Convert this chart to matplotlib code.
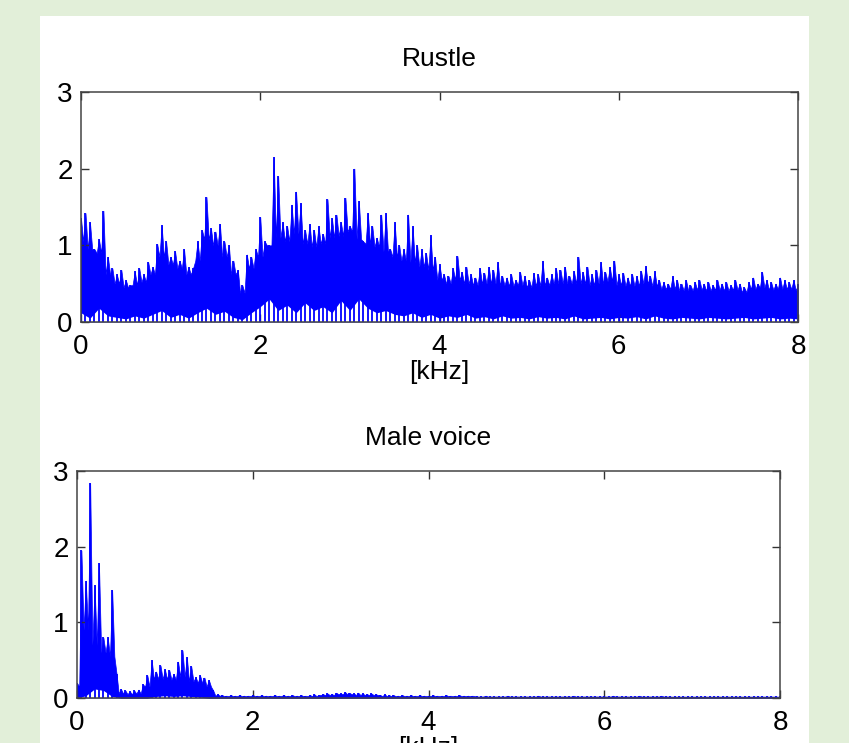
import numpy as np
import matplotlib
matplotlib.use('Agg')
import matplotlib.pyplot as plt
import matplotlib.patches as patches

plt.rcParams['font.family'] = ['Liberation Sans', 'DejaVu Sans']

# ========== 0. data ==========
# spike heights, one per 0.05 kHz bin (0 .. 8 kHz)
rustle_peak = [
    1.35, 1.42, 1.30, 0.95, 1.08, 1.45, 0.85, 0.70, 0.62, 0.68,
    0.55, 0.48, 0.66, 0.70, 0.62, 0.78, 0.72, 1.02, 1.26, 1.05,
    0.85, 0.92, 0.80, 0.95, 0.72, 0.70, 1.05, 1.20, 1.63, 1.22,
    1.18, 1.28, 1.05, 1.00, 0.80, 0.68, 0.48, 0.88, 0.85, 0.95,
    1.37, 1.05, 1.00, 2.15, 1.90, 1.30, 1.25, 1.53, 1.70, 1.55,
    1.20, 1.28, 1.20, 1.25, 1.15, 1.60, 1.35, 1.40, 1.30, 1.62,
    1.25, 2.00, 1.58, 1.05, 1.42, 1.25, 1.10, 1.40, 1.42, 0.95,
    1.30, 1.00, 0.95, 1.40, 1.25, 1.00, 0.95, 0.90, 1.13, 0.85,
    0.75, 0.62, 0.60, 0.70, 0.86, 0.65, 0.72, 0.62, 0.58, 0.70,
    0.64, 0.72, 0.68, 0.78, 0.60, 0.58, 0.62, 0.55, 0.65, 0.60,
    0.55, 0.64, 0.62, 0.80, 0.58, 0.62, 0.70, 0.68, 0.72, 0.60,
    0.66, 0.85, 0.65, 0.72, 0.62, 0.68, 0.78, 0.65, 0.72, 0.80,
    0.62, 0.64, 0.58, 0.62, 0.60, 0.66, 0.73, 0.60, 0.66, 0.55,
    0.52, 0.50, 0.60, 0.55, 0.50, 0.55, 0.48, 0.52, 0.55, 0.50,
    0.52, 0.48, 0.55, 0.50, 0.52, 0.48, 0.55, 0.50, 0.45, 0.52,
    0.58, 0.50, 0.65, 0.55, 0.52, 0.50, 0.58, 0.55, 0.52, 0.55,
    0.50]
# level of the dips between spikes, one per 0.1 kHz bin
rustle_body = [
    1.05, 0.95, 0.90, 0.62, 0.50, 0.45, 0.48, 0.52, 0.62, 0.85,
    0.75, 0.70, 0.62, 0.80, 1.08, 1.00, 0.85, 0.62, 0.38, 0.70,
    0.85, 1.00, 1.10, 1.05, 1.15, 1.02, 0.98, 1.02, 1.10, 1.12,
    1.18, 1.08, 1.02, 0.98, 0.92, 0.85, 0.80, 0.78, 0.72, 0.68,
    0.55, 0.50, 0.55, 0.50, 0.48, 0.50, 0.50, 0.48, 0.47, 0.48,
    0.45, 0.47, 0.48, 0.50, 0.50, 0.50, 0.50, 0.48, 0.50, 0.53,
    0.48, 0.47, 0.47, 0.50, 0.47, 0.43, 0.43, 0.41, 0.41, 0.42,
    0.41, 0.42, 0.41, 0.42, 0.39, 0.43, 0.45, 0.42, 0.43, 0.43,
    0.41]
# white gaps along the zero line, one per 0.1 kHz bin
rustle_floor = [
    0.12, 0.05, 0.18, 0.08, 0.06, 0.04, 0.08, 0.05, 0.10, 0.15,
    0.06, 0.10, 0.05, 0.12, 0.18, 0.10, 0.14, 0.06, 0.03, 0.12,
    0.20, 0.30, 0.15, 0.22, 0.12, 0.25, 0.15, 0.20, 0.12, 0.28,
    0.15, 0.30, 0.18, 0.12, 0.15, 0.10, 0.08, 0.12, 0.06, 0.10,
    0.05, 0.08, 0.06, 0.10, 0.05, 0.07, 0.04, 0.08, 0.05, 0.06,
    0.04, 0.07, 0.05, 0.06, 0.04, 0.08, 0.04, 0.05, 0.06, 0.04,
    0.06, 0.05, 0.07, 0.04, 0.08, 0.05, 0.04, 0.06, 0.05, 0.04,
    0.06, 0.05, 0.04, 0.05, 0.06, 0.04, 0.05, 0.06, 0.04, 0.05,
    0.04]

male_peak = [
    0.20, 1.95, 1.55, 2.84, 1.49, 1.78, 0.80, 0.80, 1.43, 0.32,
    0.12, 0.10, 0.09, 0.10, 0.11, 0.18, 0.30, 0.50, 0.35, 0.43,
    0.38, 0.37, 0.32, 0.48, 0.63, 0.54, 0.42, 0.28, 0.30, 0.27,
    0.24, 0.10, 0.05,
    0.04, 0.03, 0.04, 0.03, 0.04, 0.03, 0.03, 0.04, 0.03, 0.04,
    0.03, 0.03, 0.04, 0.03, 0.04, 0.03, 0.04, 0.03, 0.04, 0.03,
    0.04, 0.05, 0.04, 0.05, 0.06, 0.05, 0.07, 0.06, 0.08, 0.07,
    0.06, 0.07, 0.06, 0.05, 0.06, 0.05, 0.04, 0.05,
    0.04, 0.04, 0.03, 0.04, 0.03, 0.04, 0.03, 0.04, 0.03, 0.03,
    0.04, 0.03, 0.03, 0.04, 0.03, 0.03, 0.04, 0.03, 0.03, 0.03,
    0.02, 0.02, 0.03, 0.02, 0.02, 0.02, 0.02, 0.03, 0.02, 0.02,
    0.02, 0.02, 0.02, 0.02, 0.03, 0.02, 0.02, 0.02, 0.02, 0.02,
    0.02, 0.02, 0.03, 0.02, 0.02, 0.02, 0.02, 0.02, 0.02, 0.02,
    0.02, 0.03, 0.02, 0.02, 0.02, 0.02, 0.02, 0.03, 0.02, 0.02,
    0.02, 0.02, 0.03, 0.02,
    0.02, 0.02, 0.02, 0.02, 0.02, 0.02, 0.02, 0.02, 0.02, 0.02,
    0.02, 0.02, 0.02, 0.02, 0.02, 0.02, 0.02, 0.02, 0.02, 0.02,
    0.02, 0.02, 0.02, 0.02, 0.02, 0.02]
male_body = [
    0.15, 0.90, 0.70, 0.60, 0.55, 0.06, 0.05, 0.06, 0.15, 0.25,
    0.25, 0.24, 0.28, 0.22, 0.20, 0.15, 0.03,
    0.025, 0.025, 0.025, 0.025, 0.025, 0.025, 0.025, 0.025, 0.025, 0.025, 0.025,
    0.04, 0.04, 0.05, 0.05, 0.04, 0.04, 0.04,
    0.025, 0.025, 0.025, 0.025, 0.025, 0.025, 0.025, 0.025, 0.025, 0.025, 0.025,
    0.02, 0.02, 0.02, 0.02, 0.02, 0.02, 0.02, 0.02, 0.02, 0.02, 0.02,
    0.02, 0.02, 0.02, 0.02, 0.02, 0.02, 0.02, 0.02, 0.02, 0.02, 0.02,
    0.018, 0.018, 0.018, 0.018, 0.018, 0.018, 0.018, 0.018, 0.018, 0.018, 0.018, 0.018, 0.018]
male_floor = [
    0.00, 0.03, 0.12, 0.10, 0.02, 0.00, 0.00, 0.00, 0.00, 0.02,
    0.03, 0.02, 0.03, 0.02, 0.01, 0.00, 0.00, 0.00, 0.00, 0.00,
    0.00, 0.00, 0.00, 0.00, 0.00, 0.00, 0.00, 0.00, 0.00, 0.00,
    0.00, 0.00, 0.00, 0.00, 0.00, 0.00, 0.00, 0.00, 0.00, 0.00,
    0.00, 0.00, 0.00, 0.00, 0.00, 0.00, 0.00, 0.00, 0.00, 0.00,
    0.00, 0.00, 0.00, 0.00, 0.00, 0.00, 0.00, 0.00, 0.00, 0.00,
    0.00, 0.00, 0.00, 0.00, 0.00, 0.00, 0.00, 0.00, 0.00, 0.00,
    0.00, 0.00, 0.00, 0.00, 0.00, 0.00, 0.00, 0.00, 0.00, 0.00,
    0.00]

titles = ['Rustle', 'Male voice']
x_ticks = [0, 2, 4, 6, 8]
y_ticks = [0, 1, 2, 3]

freq_peak = np.linspace(0, 8, len(rustle_peak))
freq_body = np.linspace(0, 8, len(rustle_body))


def spectrum_outline(peak, body):
    # spikes at the 0.05 kHz bins, dips in between at the level of the nearest 0.1 kHz bin
    n = len(peak)
    mid_x = (freq_peak[:-1] + freq_peak[1:]) / 2
    mid_y = np.asarray(body)[(np.arange(n - 1) + 1) // 2]
    xs = np.empty(2 * n - 1); ys = np.empty(2 * n - 1)
    xs[0::2] = freq_peak; ys[0::2] = peak
    xs[1::2] = mid_x;     ys[1::2] = mid_y
    return xs, ys


# ========== 1. figure ==========
W, H = 849, 743
fig = plt.figure(figsize=(W / 100, H / 100), dpi=100, facecolor='#e2efd9')
panel = patches.Rectangle((40 / W, 0), 769 / W, 727 / H, transform=fig.transFigure,
                          facecolor='white', edgecolor='none', zorder=-1)
fig.add_artist(panel)

ax1 = fig.add_axes([81 / W, 1 - 322 / H, 717 / W, 230 / H])
ax2 = fig.add_axes([77 / W, 1 - 698 / H, 703 / W, 227 / H])

series = [(rustle_peak, rustle_body, rustle_floor), (male_peak, male_body, male_floor)]

for ax, title, (peak, body, floor) in zip([ax1, ax2], titles, series):
    xs, ys = spectrum_outline(peak, body)
    ax.fill_between(xs, 0, ys, color='#0000ff', linewidth=0.5, edgecolor='#0000ff')
    # white gaps at the bottom, crossed by the spectrum lines
    ax.fill_between(freq_body, 0, floor, color='white', linewidth=0)
    ax.vlines(freq_peak, 0, peak, color='#0000ff', linewidth=1.3)
    ax.set_xlim(0, 8); ax.set_ylim(0, 3)
    ax.set_xticks(x_ticks); ax.set_yticks(y_ticks)
    ax.tick_params(direction='in', length=6, width=1, top=True, right=True,
                   labelsize=20, color='#333333', labelcolor='black')
    ax.tick_params(axis='x', pad=9)
    ax.tick_params(axis='y', pad=6)
    for s in ax.spines.values():
        s.set_color('#444444'); s.set_linewidth(1.1); s.set_zorder(5)
    ax.set_title(title, fontsize=19, pad=19)
    ax.set_xlabel('[kHz]', fontsize=19, labelpad=0)

fig.savefig('out.png', dpi=100, facecolor=fig.get_facecolor())
